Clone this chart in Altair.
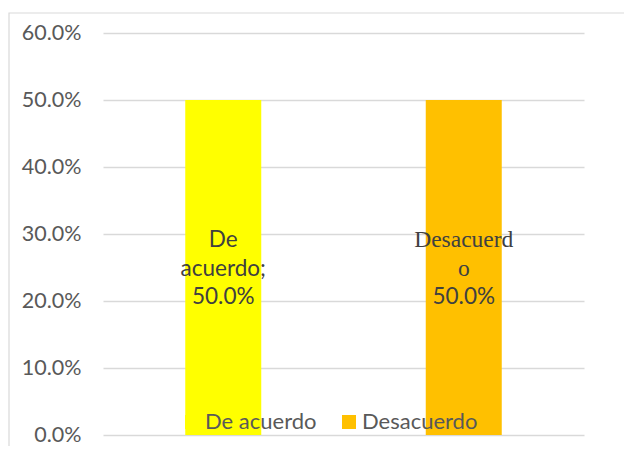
import altair as alt
import pandas as pd

categories = ["De acuerdo", "Desacuerdo"]
values = [0.50, 0.50]
name_lines = [["De", "acuerdo;"], ["Desacuerd", "o"]]
name_is_serif = [False, True]
bar_colors = ["#FFFF00", "#FFC000"]
y_ticks = [0.0, 0.1, 0.2, 0.3, 0.4, 0.5, 0.6]

SANS = "Lato"
SERIF = "Liberation Serif"
LINE_H = 28.5

rows = []
for c, v, lines, s in zip(categories, values, name_lines, name_is_serif):
    all_lines = lines + [f"{v * 100:.1f}%"]
    for i, t in enumerate(all_lines):
        serif = s and i < len(lines)
        rows.append({"cat": c, "value": v, "mid": v / 2, "line": i,
                     "text": t, "serif": serif})
labels_df = pd.DataFrame(rows)
bars_df = pd.DataFrame({"cat": categories, "value": values})

x_enc = alt.X("cat:N", sort=categories, axis=None,
              scale=alt.Scale(paddingInner=0, paddingOuter=0))

bars = alt.Chart(bars_df).mark_bar(size=76).encode(
    x=x_enc,
    y=alt.Y("value:Q",
            scale=alt.Scale(domain=[0, 0.6], nice=False),
            axis=alt.Axis(values=y_ticks, format=".1%", title=None,
                          domain=False, ticks=False, labelPadding=22,
                          labelFont=SANS, labelFontSize=21.5,
                          labelColor="#595959", gridColor="#D9D9D9",
                          gridWidth=1.5)),
    color=alt.Color("cat:N",
                    scale=alt.Scale(domain=categories, range=bar_colors),
                    legend=alt.Legend(title=None, orient="none",
                                      direction="horizontal",
                                      legendX=78, legendY=378,
                                      symbolType="square", symbolSize=196,
                                      symbolStrokeWidth=0,
                                      labelFont=SANS, labelFontSize=22,
                                      labelColor="#595959",
                                      labelOffset=2, columnPadding=21,
                                      padding=0)),
)

label_layers = []
for line_idx in range(3):
    for serif in (False, True):
        layer = alt.Chart(labels_df).transform_filter(
            (alt.datum.line == line_idx) & (alt.datum.serif == serif)
        ).mark_text(
            font=SERIF if serif else SANS,
            fontSize=23.5 if serif else 22.5,
            color="#404040", baseline="middle", align="center",
            dy=(line_idx - 1) * LINE_H + 1,
        ).encode(
            x=x_enc,
            y=alt.Y("mid:Q"),
            text=alt.Text("text:N"),
        )
        label_layers.append(layer)

frame = alt.Chart(alt.Data(values=[{}])).mark_rect(
    fill=None, stroke="#D9D9D9", strokeWidth=1.2
).encode(
    x=alt.value(-94), x2=alt.value(900),
    y=alt.value(-20), y2=alt.value(900),
)

chart = alt.layer(frame, bars, *label_layers).properties(
    width=481, height=402,
    padding={"left": 95, "top": 25, "right": 40, "bottom": 11},
    autosize=alt.AutoSizeParams(type="none"),
).configure_view(stroke=None)

chart.save("out.html", embed_options={"renderer": "svg", "actions": False})
